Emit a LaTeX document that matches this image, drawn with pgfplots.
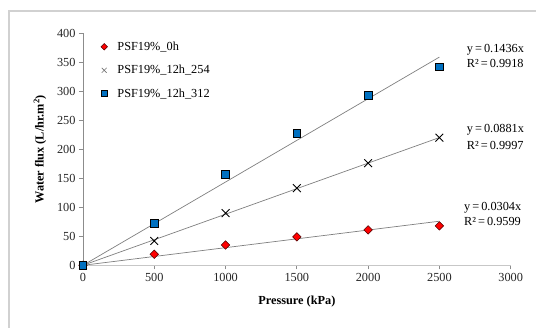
\documentclass[border=0pt]{standalone}
\usepackage{pgfplots}
\pgfplotsset{compat=1.18}
\usepackage{fontspec}
\setmainfont{Liberation Serif}
\definecolor{mblue}{HTML}{0070C0}
\definecolor{mred}{HTML}{FF0000}
\definecolor{tlgray}{HTML}{7F7F7F}
\begin{document}
\begin{tikzpicture}[x=1pt,y=1pt]
\useasboundingbox (0,0) rectangle (536,328);
\draw[black!18, line width=1.6pt] (9,-5) -- (9,317) -- (541,317);
\begin{axis}[
  at={(83pt,62.7pt)}, anchor=south west,
  scale only axis, width=427.7pt, height=232pt,
  xmin=0, xmax=3000, ymin=0, ymax=400,
  xtick={0,500,...,3000}, ytick={0,50,...,400},
  axis x line*=bottom, axis y line*=left,
  x axis line style={black!22, line width=1.5pt, -},
  y axis line style={black!45, line width=0.8pt, -},
  tick align=outside, major tick length=4pt,
  tick style={black!45, line width=0.8pt},
  /pgf/number format/assume math mode=true,
  /pgf/number format/1000 sep={},
  tick label style={font=\fontsize{12.3}{14}\selectfont, text=black!85},
  xlabel={\textbf{Pressure (kPa)}},
  ylabel={\textbf{Water flux (L/hr.m\textsuperscript{2})}},
  label style={font=\fontsize{12.3}{14}\selectfont},
  xlabel style={at={(axis description cs:0.5,-0.157)}, anchor=center},
  ylabel style={at={(axis description cs:-0.1005,0.5)}, anchor=center, rotate=0},
  clip=false,
  legend cell align=left,
  legend style={draw=none, fill=none, at={(axis description cs:0.037,0.973)}, anchor=north west,
    font=\fontsize{12.3}{14}\selectfont, row sep=11.5pt, inner sep=1pt, nodes={inner sep=1pt}},
  legend image code/.code={\draw[#1] plot coordinates {(0pt,0pt)}; \path (-4pt,0pt) (12pt,0pt);},
]
\addplot[tlgray, line width=0.7pt, forget plot] coordinates {(0,0) (2500,359)};
\addplot[tlgray, line width=0.7pt, forget plot] coordinates {(0,0) (2500,220.25)};
\addplot[tlgray, line width=0.7pt, forget plot] coordinates {(0,0) (2500,76)};
\addplot[only marks, mark=square*, mark size=3pt, mark options={rotate=45, fill=mred, draw=black!70!red, line width=0.5pt},
  legend image post style={mark size=2.3pt}]
  coordinates {(0,0) (500,19) (1000,35) (1500,49) (2000,61) (2500,68)};
\addlegendentry{PSF19\%\_0h}
\addplot[only marks, mark=x, mark size=5.5pt, mark options={draw=black, line width=0.9pt},
  legend image post style={mark size=3.5pt, mark options={draw=black!55, line width=0.6pt}}]
  coordinates {(0,0) (500,42) (1000,90) (1500,133) (2000,176) (2500,220)};
\addlegendentry{PSF19\%\_12h\_254}
\addplot[only marks, mark=square*, mark size=3.8pt, mark options={fill=mblue, draw=black, line width=0.7pt},
  legend image post style={mark size=3pt}]
  coordinates {(0,0) (500,72) (1000,157) (1500,228) (2000,293) (2500,342)};
\addlegendentry{PSF19\%\_12h\_312}
\begin{scope}[every node/.style={font=\fontsize{12.3}{14}\selectfont, anchor=west, inner sep=0pt}]
\node at (axis cs:2691,371) {y\,=\,0.1436x};
\node at (axis cs:2691,348) {R²\,=\,0.9918};
\node at (axis cs:2691,233) {y\,=\,0.0881x};
\node at (axis cs:2691,207) {R²\,=\,0.9997};
\node at (axis cs:2672,99.3) {y\,=\,0.0304x};
\node at (axis cs:2672,75) {R²\,=\,0.9599};
\end{scope}
\end{axis}
\end{tikzpicture}
\end{document}
